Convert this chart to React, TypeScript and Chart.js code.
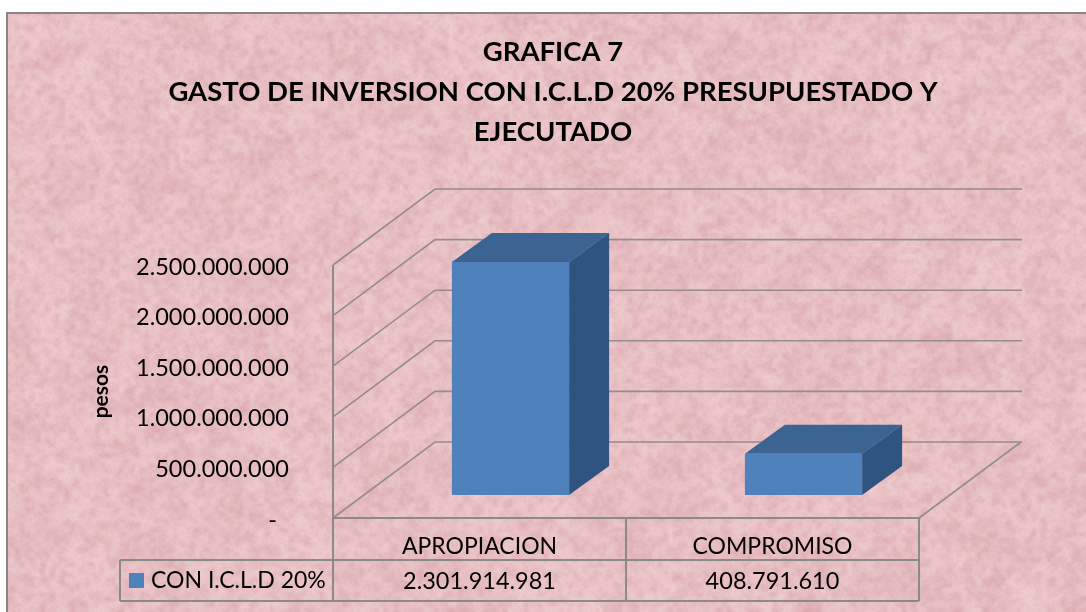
import React, { useEffect, useRef } from "react";
import { Chart, registerables } from "chart.js";

Chart.register(...registerables);

const titleLines = ["GRAFICA 7", "GASTO DE INVERSION CON I.C.L.D 20% PRESUPUESTADO Y", "EJECUTADO"];
const categories = ["APROPIACION", "COMPROMISO"];
const seriesName = "CON I.C.L.D 20%";
const seriesValues = [2301914981, 408791610];
const yAxisTitle = "pesos";
const FONT = "Lato, Carlito, sans-serif";
const TICK_SIZE = 23;
const VALUE_SIZE = 23.5;

const dotted = (n: number) => String(Math.round(n)).replace(/\B(?=(\d{3})+(?!\d))/g, ".");

function buildTexture(w: number, h: number) {
  const layer = (cell: number, amp: number, seed: number) => {
    const c = document.createElement("canvas");
    c.width = Math.ceil(w / cell);
    c.height = Math.ceil(h / cell);
    const x = c.getContext("2d")!;
    const img = x.createImageData(c.width, c.height);
    for (let j = 0; j < c.height; j++) {
      for (let i = 0; i < c.width; i++) {
        const s = Math.sin(i * 127.1 + j * 311.7 + seed) * 43758.5453;
        const v = (s - Math.floor(s)) * 2 - 1;
        const k = (i + j * c.width) * 4;
        const dark = v < 0;
        img.data[k] = dark ? 170 : 255;
        img.data[k + 1] = dark ? 90 : 235;
        img.data[k + 2] = dark ? 105 : 235;
        img.data[k + 3] = Math.abs(v) * amp * 255;
      }
    }
    x.putImageData(img, 0, 0);
    return c;
  };
  return [layer(40, 0.05, 1.3), layer(14, 0.09, 4.7), layer(5, 0.14, 9.1), layer(2, 0.07, 2.2)];
}

const scene = {
  id: "scene",
  beforeDraw(chart: any) {
    const { ctx, width, height } = chart;
    ctx.save();
    ctx.fillStyle = "#ffffff";
    ctx.fillRect(0, 0, width, height);
    ctx.fillStyle = "#EAC3C6";
    ctx.fillRect(7, 13, width - 7, height - 13);
    ctx.imageSmoothingEnabled = true;
    ctx.imageSmoothingQuality = "high";
    ctx.beginPath();
    ctx.rect(7, 13, width - 7, height - 13);
    ctx.clip();
    for (const t of buildTexture(width, height)) ctx.drawImage(t, 0, 0, width, height);
    ctx.restore();
    ctx.save();
    ctx.strokeStyle = "#868686";
    ctx.lineWidth = 2;
    ctx.beginPath();
    ctx.moveTo(7, height);
    ctx.lineTo(7, 13);
    ctx.lineTo(width, 13);
    ctx.stroke();
    ctx.restore();
  },
  beforeDatasetsDraw(chart: any) {
    const { ctx, scales, chartArea } = chart;
    const { left, right, bottom } = chartArea;
    const dx = 102;
    const dy = -76;
    ctx.save();
    ctx.strokeStyle = "#978B8B";
    ctx.lineWidth = 1.6;
    ctx.beginPath();
    for (const t of scales.y.ticks) {
      const y = scales.y.getPixelForValue(t.value);
      ctx.moveTo(left, y);
      ctx.lineTo(left + dx, y + dy);
      ctx.lineTo(right + dx + 1, y + dy);
    }
    ctx.moveTo(right, bottom);
    ctx.lineTo(right + dx, bottom + dy);
    ctx.stroke();

    // Floor front edge, left wall edge and data table
    const rowA = bottom + 42;
    const rowB = bottom + 83;
    const tableLeft = 120;
    const mid = (left + right) / 2;
    ctx.strokeStyle = "#8A8A8A";
    ctx.lineWidth = 2;
    ctx.beginPath();
    ctx.moveTo(left, scales.y.top);
    ctx.lineTo(left, rowB);
    ctx.moveTo(left, bottom);
    ctx.lineTo(right, bottom);
    ctx.moveTo(mid, bottom);
    ctx.lineTo(mid, rowB);
    ctx.moveTo(right, bottom);
    ctx.lineTo(right, rowB);
    ctx.moveTo(tableLeft, rowA);
    ctx.lineTo(right, rowA);
    ctx.moveTo(tableLeft, rowB);
    ctx.lineTo(right, rowB);
    ctx.moveTo(tableLeft, rowA);
    ctx.lineTo(tableLeft, rowB);
    ctx.stroke();

    // Table text and legend key
    const ds = chart.data.datasets[0];
    ctx.fillStyle = "#000000";
    ctx.font = `${VALUE_SIZE}px ${FONT}`;
    ctx.textBaseline = "middle";
    ctx.textAlign = "center";
    ds.data.forEach((v: number, i: number) => {
      ctx.fillText(dotted(v), scales.x.getPixelForValue(i), rowA + 21);
    });
    ctx.font = `${TICK_SIZE}px ${FONT}`;
    ctx.textAlign = "left";
    ctx.fillText(ds.label, 151, rowA + 21);
    ctx.fillStyle = ds.backgroundColor;
    ctx.fillRect(129, rowA + 13, 15, 15);
    ctx.restore();

    // The bars stand in the middle of the floor's depth
    ctx.save();
    ctx.translate(31, -23);
    const meta = chart.getDatasetMeta(0);
    const bdx = 40;
    const bdy = -29;
    for (const b of meta.data) {
      const l = b.x - b.width / 2;
      const r = b.x + b.width / 2;
      ctx.fillStyle = "#3B6493";
      ctx.beginPath();
      ctx.moveTo(l, b.y);
      ctx.lineTo(l + bdx, b.y + bdy);
      ctx.lineTo(r + bdx, b.y + bdy);
      ctx.lineTo(r, b.y);
      ctx.closePath();
      ctx.fill();
      ctx.fillStyle = "#2F5480";
      ctx.beginPath();
      ctx.moveTo(r, b.y);
      ctx.lineTo(r + bdx, b.y + bdy);
      ctx.lineTo(r + bdx, b.base + bdy);
      ctx.lineTo(r, b.base);
      ctx.closePath();
      ctx.fill();
    }
  },
  afterDatasetsDraw(chart: any) {
    chart.ctx.restore();
  },
};

export default function App() {
  const ref = useRef<HTMLCanvasElement>(null);
  useEffect(() => {
    const chart = new Chart(ref.current!, {
      type: "bar",
      data: {
        labels: categories,
        datasets: [
          {
            label: seriesName,
            data: seriesValues,
            backgroundColor: "#4F81BD",
            barPercentage: 0.4,
            categoryPercentage: 1,
            clip: false,
            yAxisID: "y",
          } as any,
        ],
      },
      plugins: [scene],
      options: {
        animation: false,
        responsive: false,
        layout: { padding: { left: 90, right: 70, top: 32, bottom: 0 } },
        plugins: {
          legend: { display: false },
          tooltip: { enabled: false },
          title: {
            display: true,
            text: titleLines,
            color: "#000000",
            font: { family: FONT, size: 27.5, weight: "bold", lineHeight: 40 / 27.5 },
            padding: { top: 0, bottom: 113 },
          },
        },
        scales: {
          x: {
            type: "category",
            grid: { display: false },
            border: { display: false },
            afterFit(s: any) {
              s.height = 94;
            },
            ticks: {
              color: "#000000",
              font: { family: FONT, size: TICK_SIZE },
              padding: 7,
              maxRotation: 0,
              autoSkip: false,
            },
          },
          y: {
            min: 0,
            max: 2500000000,
            grid: { display: false },
            border: { display: false },
            afterFit(s: any) {
              s.width = 243;
            },
            title: {
              display: true,
              text: yAxisTitle,
              color: "#000000",
              font: { family: FONT, size: 21, weight: "bold" },
              padding: { top: -1, bottom: 0 },
            },
            ticks: {
              stepSize: 500000000,
              color: "#000000",
              font: { family: FONT, size: VALUE_SIZE },
              padding: 36,
              labelOffset: 2,
              callback: (v: any) => (Number(v) === 0 ? "-  " : dotted(Number(v))),
            },
          },
          spacer: {
            position: "right",
            min: 0,
            max: 1,
            grid: { display: false },
            border: { display: false },
            ticks: { display: false },
            afterFit(s: any) {
              s.width = 97;
            },
          },
        },
      },
    } as any);
    return () => chart.destroy();
  }, []);
  return (
    <canvas
      ref={ref}
      width={1086}
      height={612}
      style={{ position: "fixed", left: 0, top: 0, width: 1086, height: 612, display: "block" }}
    />
  );
}
